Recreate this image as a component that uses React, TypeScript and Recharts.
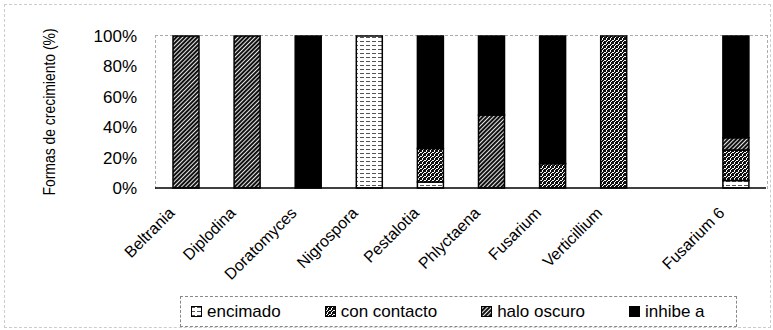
import React from 'react';
import { BarChart, Bar, XAxis, YAxis, Legend } from 'recharts';

const categorias = ['Beltrania', 'Diplodina', 'Doratomyces', 'Nigrospora', 'Pestalotia', 'Phlyctaena', 'Fusarium', 'Verticillium', '', 'Fusarium 6'];
const encimado = [0, 0, 0, 100, 4, 0, 0, 0, 0, 5];
const conContacto = [0, 0, 0, 0, 22, 0, 16, 100, 0, 20];
const haloOscuro = [100, 100, 0, 0, 0, 48, 0, 0, 0, 8];
const inhibeA = [0, 0, 100, 0, 74, 52, 84, 0, 0, 67];
const ticksY = [0, 20, 40, 60, 80, 100];

const series = [
  { key: 'encimado', nombre: 'encimado', fill: 'url(#pEncimado)' },
  { key: 'conContacto', nombre: 'con contacto', fill: 'url(#pContacto)' },
  { key: 'haloOscuro', nombre: 'halo oscuro', fill: 'url(#pHalo)' },
  { key: 'inhibeA', nombre: 'inhibe a', fill: '#000' },
];

const datos = categorias.map((nombre, i) => ({
  nombre,
  encimado: encimado[i],
  conContacto: conContacto[i],
  haloOscuro: haloOscuro[i],
  inhibeA: inhibeA[i],
}));

const fuente = "'Liberation Sans', Arial, sans-serif";

// etiqueta girada -45 grados, terminando junto a la columna
function TickX(props: any) {
  const { x, y, payload } = props;
  if (!payload.value) return null;
  return (
    <g transform={`translate(${x},${y})`}>
      <text x={0} y={0} transform="translate(-10,24) rotate(-45)" textAnchor="end" fontSize={16} fontFamily={fuente} fill="#000">
        {payload.value}
      </text>
    </g>
  );
}

function Icono({ fill }: { fill: string }) {
  return (
    <svg width={11} height={11} style={{ marginRight: 5 }}>
      <rect x={0.5} y={0.5} width={10} height={10} fill={fill} stroke="#000" />
    </svg>
  );
}

function Leyenda() {
  return (
    <div
      style={{
        width: 557,
        height: 31,
        boxSizing: 'border-box',
        border: '1px dashed #888',
        display: 'flex',
        alignItems: 'center',
        paddingLeft: 10,
        gap: 44,
        fontFamily: fuente,
        fontSize: 17,
        color: '#000',
      }}
    >
      {series.map((s) => (
        <div key={s.key} style={{ display: 'flex', alignItems: 'center' }}>
          <Icono fill={s.fill} />
          <span>{s.nombre}</span>
        </div>
      ))}
    </div>
  );
}

export default function App() {
  return (
    <div style={{ position: 'fixed', left: 0, top: 0, width: 773, height: 330, background: '#fff' }}>
      <svg width={0} height={0} style={{ position: 'absolute' }}>
        <defs>
          <pattern id="pEncimado" width={6} height={4} patternUnits="userSpaceOnUse">
            <rect width={6} height={4} fill="#fff" />
            <rect x={0} y={1} width={4} height={1} fill="#555" />
          </pattern>
          <pattern id="pContacto" width={4} height={4} patternUnits="userSpaceOnUse">
            <rect width={4} height={4} fill="#111" />
            <rect x={0} y={0} width={2} height={1} fill="#fff" />
            <rect x={2} y={2} width={1} height={2} fill="#fff" />
            <rect x={3} y={1} width={1} height={1} fill="#fff" />
          </pattern>
          <pattern id="pHalo" width={3} height={3} patternUnits="userSpaceOnUse" patternTransform="rotate(45)">
            <rect width={3} height={3} fill="#fff" />
            <rect x={0} y={0} width={2.1} height={3} fill="#111" />
          </pattern>
        </defs>
      </svg>
      <div style={{ position: 'absolute', left: 4, top: 4, width: 765, height: 322, border: '1px dashed #ccc' }} />
      <div style={{ position: 'absolute', left: 155, top: 35, width: 611, height: 153, border: '1px dashed #aaa', borderBottom: 'none' }} />
      <div
        style={{
          position: 'absolute',
          left: 50,
          top: 112,
          transform: 'translate(-50%, -50%) rotate(-90deg) scaleX(0.87)',
          whiteSpace: 'nowrap',
          fontFamily: fuente,
          fontSize: 16,
          color: '#000',
        }}
      >
        Formas de crecimiento (%)
      </div>
      <BarChart
        width={773}
        height={330}
        data={datos}
        margin={{ top: 36, right: 7, left: 95, bottom: 81 }}
        barSize={26}
      >
        <XAxis
          dataKey="nombre"
          interval={0}
          tick={(p: any) => <TickX {...p} />}
          tickLine={false}
          tickSize={0}
          height={30}
          axisLine={{ stroke: '#000', strokeWidth: 1.5 }}
        />
        <YAxis
          domain={[0, 100]}
          ticks={ticksY}
          interval={0}
          tickFormatter={(v) => `${v}%`}
          width={60}
          tickLine={false}
          axisLine={false}
          tick={{ fontSize: 17, fontFamily: fuente, fill: '#000' }}
          tickMargin={12}
        />
        <Legend
          content={<Leyenda />}
          wrapperStyle={{ position: 'absolute', left: 180, top: 296, width: 557, height: 31 }}
        />
        {series.map((s) => (
          <Bar
            key={s.key}
            dataKey={s.key}
            stackId="a"
            fill={s.fill}
            stroke="#000"
            strokeWidth={1.5}
            isAnimationActive={false}
          />
        ))}
      </BarChart>
    </div>
  );
}
